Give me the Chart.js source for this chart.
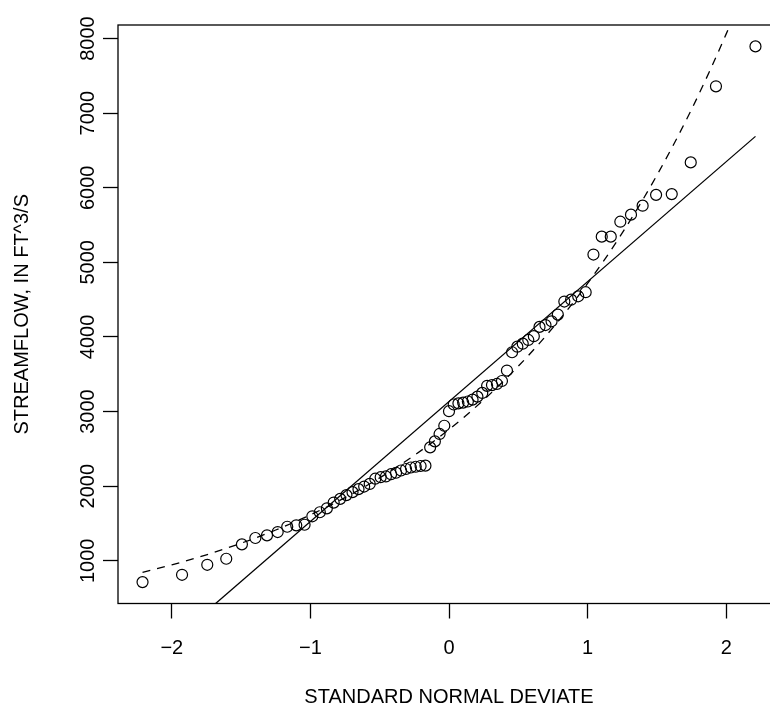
<!DOCTYPE html>
<html>
<head>
<meta charset="utf-8">
<script src="https://cdn.jsdelivr.net/npm/chart.js@4/dist/chart.umd.min.js"></script>
<style>
  html, body { margin: 0; padding: 0; background: #fff; overflow: hidden; }
  #wrap { width: 770px; height: 713px; overflow: hidden; }
  canvas { display: block; }
</style>
</head>
<body>
<div id="wrap"><canvas id="chart" width="800" height="713"></canvas></div>
<script>
// plotting positions (standard normal deviates) of the ranked flows
const deviates = [-2.211, -1.926, -1.744, -1.607, -1.494, -1.397, -1.313, -1.236, -1.167, -1.102,
  -1.042, -0.986, -0.932, -0.881, -0.832, -0.785, -0.740, -0.696, -0.653, -0.612,
  -0.572, -0.532, -0.493, -0.455, -0.418, -0.382, -0.346, -0.310, -0.275, -0.240,
  -0.205, -0.170, -0.136, -0.102, -0.068, -0.034, 0, 0.034, 0.068, 0.102,
  0.136, 0.170, 0.205, 0.240, 0.275, 0.310, 0.346, 0.382, 0.418, 0.455,
  0.493, 0.532, 0.572, 0.612, 0.653, 0.696, 0.740, 0.785, 0.832, 0.881,
  0.932, 0.986, 1.042, 1.102, 1.167, 1.236, 1.313, 1.397, 1.494, 1.607,
  1.744, 1.926, 2.211];

// ranked streamflow, ft^3/s
const flows = [714, 812, 946, 1027, 1220, 1305, 1341, 1385, 1456, 1475,
  1483, 1596, 1650, 1703, 1780, 1830, 1880, 1920, 1960, 1995,
  2030, 2100, 2120, 2130, 2160, 2180, 2210, 2230, 2250, 2260,
  2270, 2275, 2520, 2600, 2700, 2810, 3005, 3095, 3110, 3120,
  3135, 3160, 3200, 3250, 3345, 3355, 3370, 3410, 3550, 3795,
  3870, 3910, 3960, 4010, 4135, 4160, 4210, 4300, 4475, 4500,
  4545, 4600, 5105, 5345, 5345, 5545, 5640, 5760, 5905, 5915,
  6340, 7360, 7895];

// fitted normal distribution (solid line)
const normalZ = [-2.211, 2.211];
const normalFlow = [-421, 6689];

// fitted lognormal distribution (dashed line)
const lognormZ = [-2.211, -2, -1.75, -1.5, -1.25, -1, -0.75, -0.5, -0.25, 0,
  0.25, 0.5, 0.75, 1, 1.25, 1.5, 1.75, 2, 2.211];
const lognormFlow = [844, 945, 1080, 1235, 1412, 1615, 1846, 2111, 2414, 2760,
  3156, 3608, 4126, 4718, 5394, 6168, 7052, 8063, 9029];

const xTicks = [-2, -1, 0, 1, 2];
const yTicks = [1000, 2000, 3000, 4000, 5000, 6000, 7000, 8000];

const FONT = { family: '"Liberation Sans", Arial, sans-serif', size: 20 };

const toXY = (xs, ys) => xs.map((x, i) => ({ x: x, y: ys[i] }));

// box around the plot region and rotated y tick labels (R style)
const frame = {
  id: 'frame',
  afterDraw(chart) {
    const { ctx, chartArea: a, scales: { y } } = chart;
    ctx.save();
    ctx.strokeStyle = '#000';
    ctx.lineWidth = 1.3;
    ctx.strokeRect(a.left, a.top, a.right - a.left, a.bottom - a.top);
    ctx.fillStyle = '#000';
    ctx.font = FONT.size + 'px ' + FONT.family;
    ctx.textAlign = 'center';
    ctx.textBaseline = 'middle';
    yTicks.forEach(v => {
      ctx.save();
      ctx.translate(88, y.getPixelForValue(v));
      ctx.rotate(-Math.PI / 2);
      ctx.fillText(String(v), 0, 0);
      ctx.restore();
    });
    ctx.restore();
  }
};

new Chart(document.getElementById('chart'), {
  type: 'scatter',
  data: {
    datasets: [
      {
        data: toXY(deviates, flows),
        showLine: false,
        pointStyle: 'circle',
        pointRadius: 5.5,
        pointBorderWidth: 1.2,
        pointBorderColor: '#000',
        pointBackgroundColor: 'rgba(0,0,0,0)'
      },
      {
        data: toXY(normalZ, normalFlow),
        showLine: true,
        pointRadius: 0,
        borderColor: '#000',
        borderWidth: 1.3
      },
      {
        data: toXY(lognormZ, lognormFlow),
        showLine: true,
        pointRadius: 0,
        borderColor: '#000',
        borderWidth: 1.3,
        borderDash: [8, 7],
        cubicInterpolationMode: 'monotone'
      }
    ]
  },
  options: {
    responsive: false,
    devicePixelRatio: 1,
    animation: false,
    layout: { padding: { top: 25, right: 20, left: 0, bottom: 0 } },
    plugins: { legend: { display: false }, tooltip: { enabled: false } },
    scales: {
      x: {
        type: 'linear',
        min: -2.388,
        max: 2.388,
        afterBuildTicks: s => { s.ticks = xTicks.map(v => ({ value: v })); },
        afterFit: s => { s.height = 109.5; },
        border: { display: false },
        grid: { drawOnChartArea: false, drawTicks: true, tickLength: 15, tickColor: '#000', tickWidth: 1.3 },
        ticks: {
          color: '#000',
          font: FONT,
          padding: 17.5,
          callback: v => (v < 0 ? '\u2212' + Math.abs(v) : String(v))
        },
        title: { display: true, text: 'STANDARD NORMAL DEVIATE', color: '#000', font: FONT, padding: { bottom: 4 } }
      },
      y: {
        type: 'linear',
        min: 427,
        max: 8182,
        afterBuildTicks: s => { s.ticks = yTicks.map(v => ({ value: v })); },
        afterFit: s => { s.width = 118; },
        border: { display: false },
        grid: { drawOnChartArea: false, drawTicks: true, tickLength: 15, tickColor: '#000', tickWidth: 1.3 },
        ticks: { display: false },
        title: { display: true, text: 'STREAMFLOW, IN FT^3/S', color: '#000', font: FONT, padding: { top: 10 } }
      }
    }
  },
  plugins: [frame]
});
</script>
</body>
</html>
